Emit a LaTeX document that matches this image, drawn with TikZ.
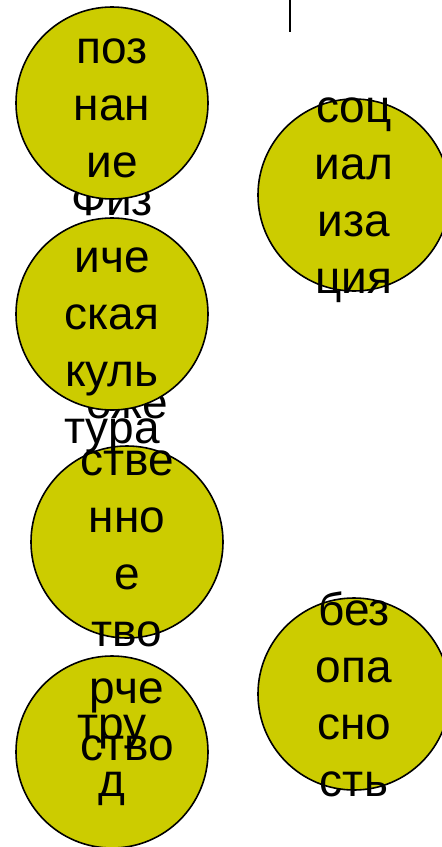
\documentclass[tikz,border=0pt]{standalone}
\usepackage{fontspec}
\setmainfont{Liberation Sans}
\usepackage{tikz}
\usepackage{xcolor}
\definecolor{ballfill}{HTML}{CCCC00}

\begin{document}
\begin{tikzpicture}[x=1pt, y=-1pt,
  ball/.style={circle, draw=black, line width=1.6pt, fill=ballfill, minimum size=192pt, inner sep=0pt},
  word/.style={anchor=base, align=center, inner sep=0pt, font=\fontsize{46}{57}\selectfont}]
\useasboundingbox (0,0) rectangle (442,847);

% Труд
\node[ball] (trud) at (112,752) {};
\node[word] (trudtext) at (112,796) {тру\\д};

% Художественное творчество
\node[ball] (hud) at (127,542) {};
\node[word] (hudtext) at (127,760) {Худ\\оже\\стве\\нно\\е\\тво\\рче\\ство};

% Физическая культура
\node[ball] (fiz) at (112,314) {};
\node[word] (fiztext) at (112,443) {Физ\\иче\\ская\\куль\\тура};

% Познание
\node[ball] (pozn) at (112,103) {};
\node[word] (pozntext) at (112,177) {поз\\нан\\ие};

% Социализация
\node[ball] (soc) at (354,195) {};
\node[word] (soctext) at (354,293) {соц\\иал\\иза\\ция};

% Безопасность
\node[ball] (bez) at (354,694) {};
\node[word] (beztext) at (354,796) {без\\опа\\сно\\сть};

% Line
\coordinate (ltop) at (290,0);
\coordinate (lbot) at (290,32);
\draw[line width=1.5pt] (ltop) -- (lbot);
\end{tikzpicture}
\end{document}
